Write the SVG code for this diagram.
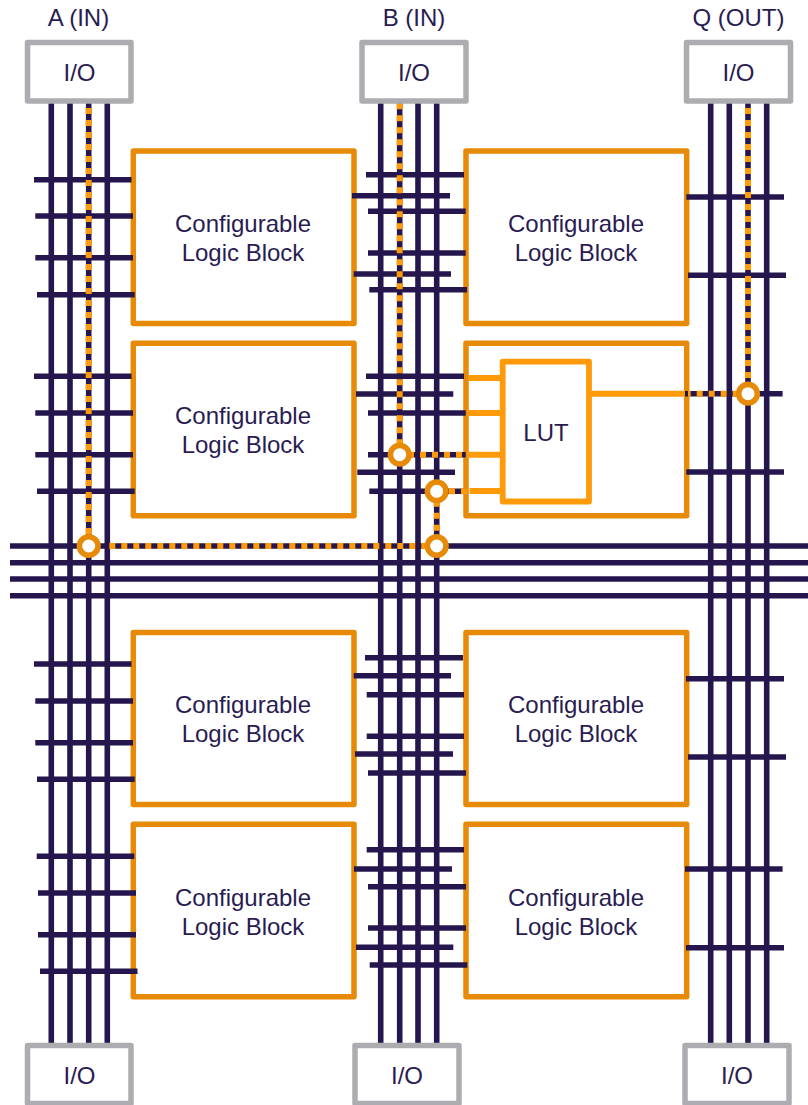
<svg xmlns="http://www.w3.org/2000/svg" width="808" height="1105" viewBox="0 0 808 1105">
<style>
text{font-family:"Liberation Sans",Arial,sans-serif;font-size:24px;fill:#2a1c52;text-anchor:middle}
.io{fill:#fff;stroke:#adadb1;stroke-width:5.5;stroke-linejoin:round}
.clb{fill:#fff;stroke:#e68a07;stroke-width:5.5;stroke-linejoin:round}
.lut{fill:#fff;stroke:#ff9a0a;stroke-width:5.8;stroke-linejoin:round}
.w{stroke:#25174d;stroke-width:5.6;fill:none}
.o{stroke:#ff9a0a;stroke-width:6;fill:none}
.d{stroke:#ff9a0a;stroke-width:6;fill:none;stroke-dasharray:6 6}
.sw{fill:#fff;stroke:#e68a07;stroke-width:5.6}
</style>
<g id="clb-1"><rect class="clb" x="133.3" y="151" width="220.7" height="172.5"/><text x="243" y="232">Configurable</text><text x="243" y="261">Logic Block</text></g>
<g id="clb-2"><rect class="clb" x="466" y="151" width="220.700" height="172.5"/><text x="576" y="232">Configurable</text><text x="576" y="261">Logic Block</text></g>
<g id="clb-3"><rect class="clb" x="133.3" y="343.300" width="220.7" height="172.5"/><text x="243" y="424">Configurable</text><text x="243" y="453">Logic Block</text></g>
<g id="clb-4"><rect class="clb" x="466" y="343.300" width="220.700" height="172.5"/></g>
<g id="clb-5"><rect class="clb" x="133.3" y="632.500" width="220.7" height="172"/><text x="243" y="713">Configurable</text><text x="243" y="742">Logic Block</text></g>
<g id="clb-6"><rect class="clb" x="466" y="632.500" width="220.700" height="172"/><text x="576" y="713">Configurable</text><text x="576" y="742">Logic Block</text></g>
<g id="clb-7"><rect class="clb" x="133.3" y="824.300" width="220.7" height="172.400"/><text x="243" y="906">Configurable</text><text x="243" y="935">Logic Block</text></g>
<g id="clb-8"><rect class="clb" x="466" y="824.300" width="220.700" height="172.400"/><text x="576" y="906">Configurable</text><text x="576" y="935">Logic Block</text></g>
<g id="connectors">
<path class="w" d="M51.300 103V1045M70 103V1045M88.700 103V1045M107.300 103V1045M380.700 103V1045M399.700 103V1045M418 103V1045M436.700 103V1045M710.700 103V1045M729.300 103V1045M748 103V1045M766.700 103V1045"/>
<path class="w" d="M10 546H808M10 562.700H808M10 579H808M10 595.700H808"/>
<path class="w" d="M34 179.700H131.500M35.300 216H133M35.300 257.700H133M37 294.700H134.700M34 376.300H131.500M35.300 413H133M35.300 454.700H133M37 491.300H134.700M34 664H131.500M35.300 701H133M35.300 742.700H133M37 779.300H134.700M36.700 856.300H134.300M38 893H136M38 934.700H136M40 971.300H137.500"/>
<path class="w" d="M366 174.700H464M352 195.700H450M368 211.300H465.700M368 253H465.700M353.700 274H451M369.300 289.700H467M366 376.300H464M356 394H453.300M368 413H465.700M368 454.700H465.700M357.300 472.300H455M369.300 491.300H467M365 657.700H463M353.700 675.700H451M366.700 694.700H464M366.700 736.300H464M355 754H453M368 773H466M366.700 849.700H464M354 869H452M368 886.700H466M368 928H466M356 947.300H453.300M369.700 965H467.300"/>
<path class="w" d="M686.300 197H784M688 275.300H786M685 393.700H782.600M686.300 472H784M686 678.700H784M688 757H786M685 869H782.600M686 947.700H784"/>
<path class="o" d="M468 378H502M467 413H502M466.700 454.700H502M469.500 491H502M590 393.700H685M688 393.700H690.700"/>
<path class="d" d="M88.700 108V534M399.700 103.300V445M748 108V384M109.300 546H426M436.700 500.700V536M408 454.700H466M449 491.300H467M696.700 393.700H738"/>
</g>
<g id="lut"><rect class="lut" x="502.700" y="361.700" width="86.300" height="139.800"/><text x="546" y="441">LUT</text></g>
<g id="switches"><circle class="sw" cx="88.700" cy="546" r="9.300"/><circle class="sw" cx="436.700" cy="546" r="9.300"/><circle class="sw" cx="436.700" cy="491.300" r="9.300"/><circle class="sw" cx="399.700" cy="454.700" r="9.300"/><circle class="sw" cx="748" cy="393.700" r="9.300"/></g>
<g id="io-a"><rect class="io" x="27.500" y="42.500" width="103.500" height="58.500"/><text x="79.500" y="81">I/O</text><text x="78.500" y="26">A (IN)</text></g>
<g id="io-b"><rect class="io" x="362" y="42.500" width="104" height="58.500"/><text x="414" y="81">I/O</text><text x="414" y="26">B (IN)</text></g>
<g id="io-q"><rect class="io" x="686.500" y="42.500" width="104" height="58.500"/><text x="738.500" y="81">I/O</text><text x="738.500" y="26">Q (OUT)</text></g>
<g id="io-a2"><rect class="io" x="27.500" y="1045.500" width="103.500" height="58"/><text x="79.500" y="1084">I/O</text></g>
<g id="io-b2"><rect class="io" x="355" y="1045.500" width="104" height="58"/><text x="407" y="1084">I/O</text></g>
<g id="io-q2"><rect class="io" x="685" y="1045.500" width="104" height="58"/><text x="737" y="1084">I/O</text></g>
</svg>
